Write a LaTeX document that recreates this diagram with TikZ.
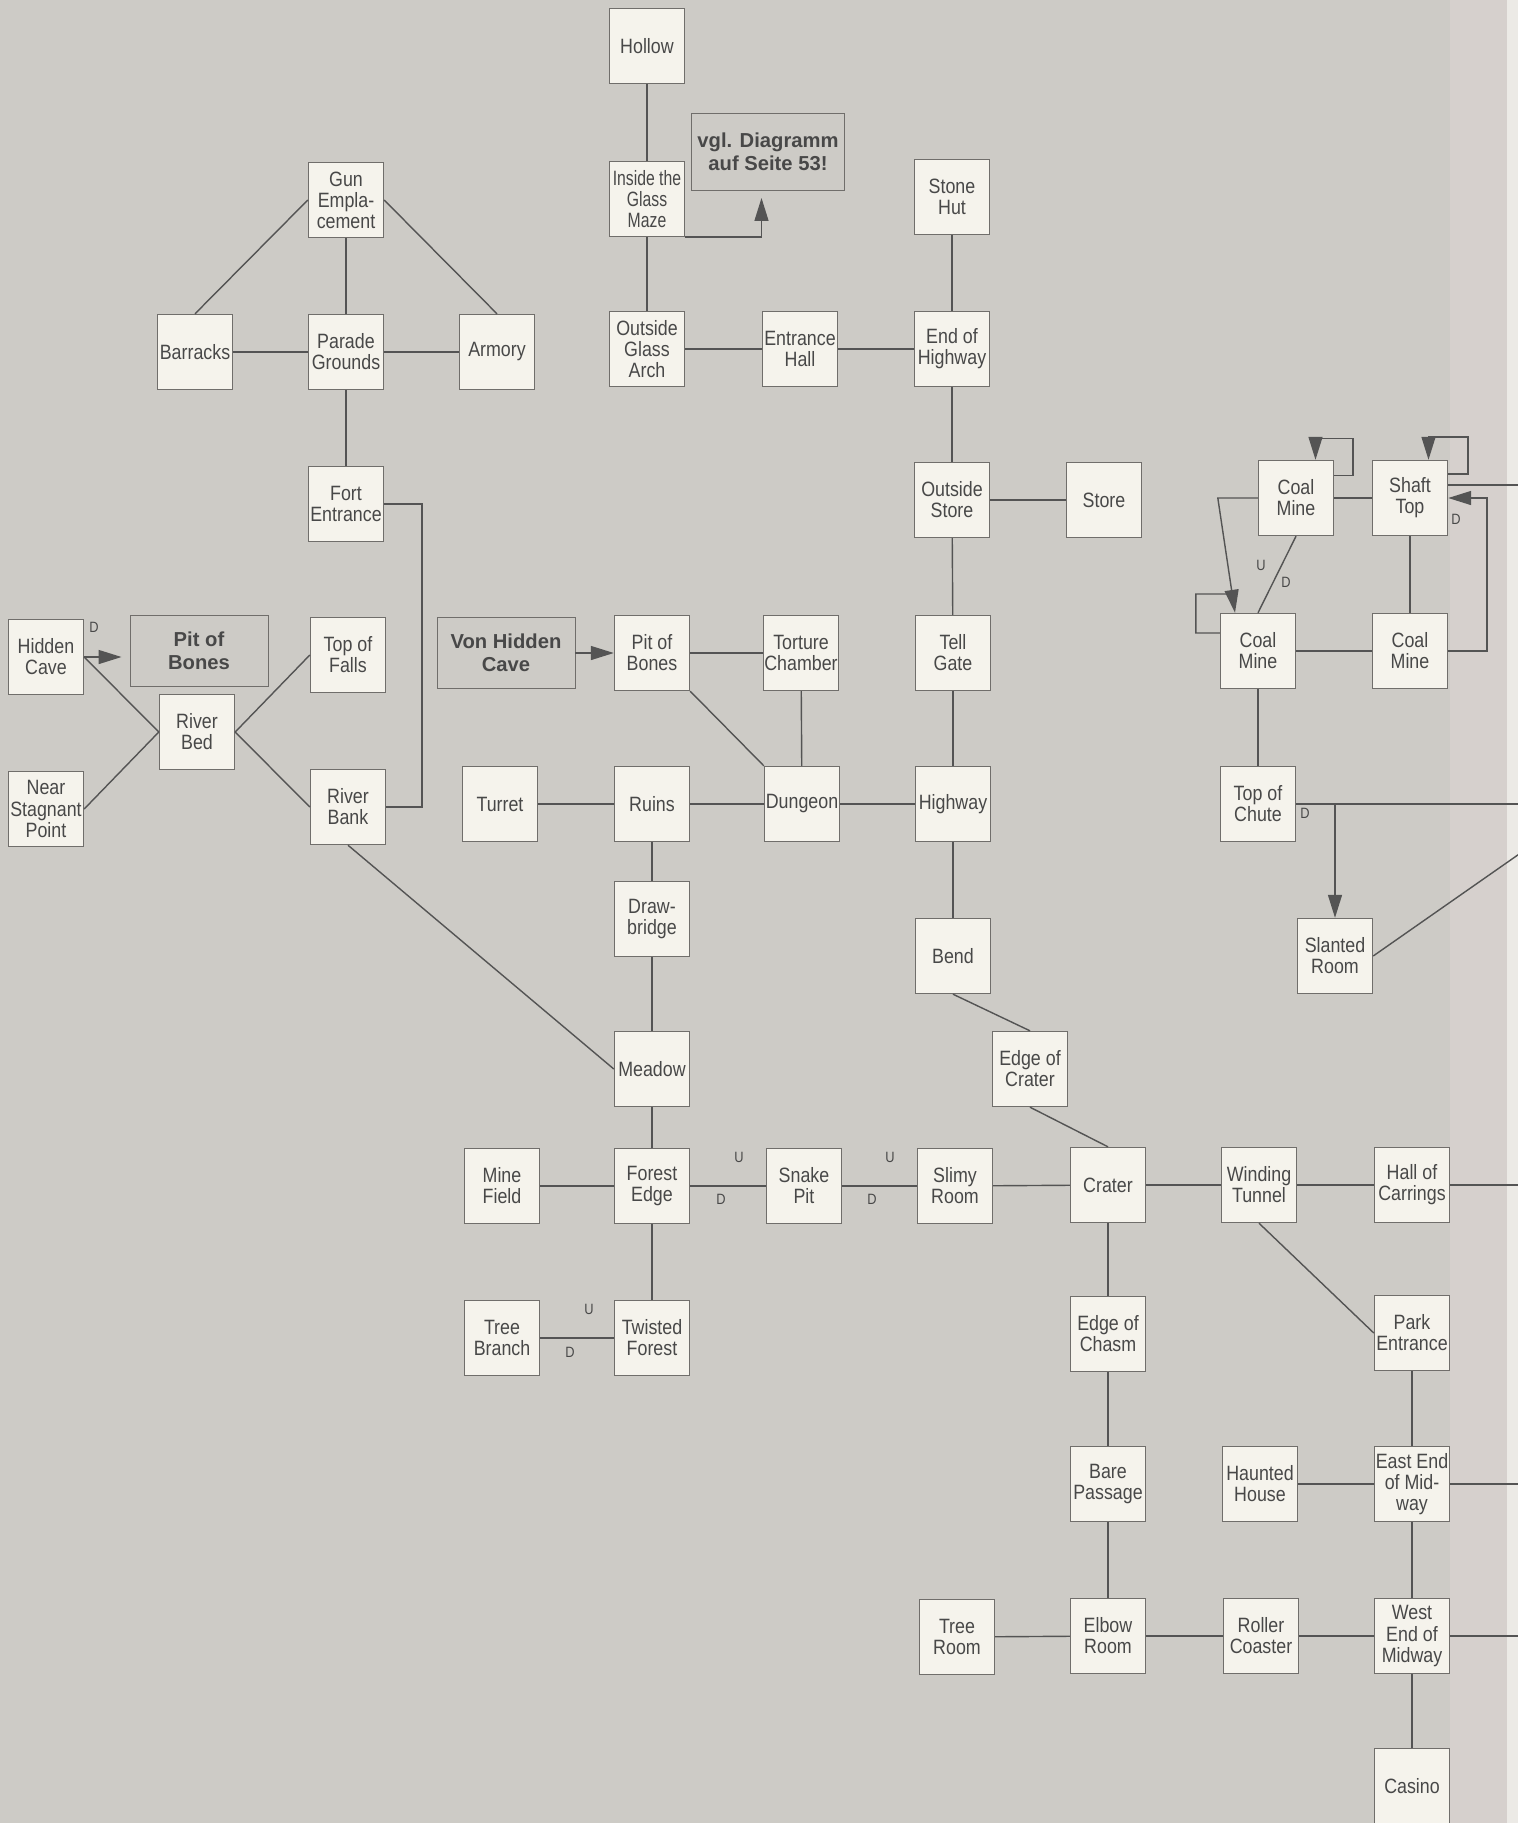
\documentclass[tikz,border=0pt]{standalone}
\usepackage{fontspec}
\setmainfont{Liberation Sans}
\newfontfamily\roomfont[FakeStretch=0.86]{Liberation Sans}
\newfontfamily\tightfont[FakeStretch=0.76]{Liberation Sans}
\usepackage{tikz}
\usetikzlibrary{arrows.meta,calc}

\definecolor{paper}{RGB}{205,203,198}
\definecolor{gutter}{RGB}{214,208,205}
\definecolor{fold}{RGB}{236,234,230}
\definecolor{roomfill}{RGB}{245,243,236}
\definecolor{roomline}{RGB}{112,110,107}
\definecolor{ink}{RGB}{72,72,72}
\definecolor{wire}{RGB}{84,84,84}

\begin{document}
\begin{tikzpicture}[x=0.2mm, y=-0.2mm,
        room/.style={draw=roomline, fill=roomfill, line width=0.5pt, minimum size=15.1mm,
            inner sep=0.2mm, align=center, text=ink, font={\roomfont\fontsize{11.8}{12}\selectfont}},
        tightroom/.style={room, font={\tightfont\fontsize{11.8}{12}\selectfont}},
        note/.style={draw=roomline, line width=0.5pt, minimum width=27.6mm, minimum height=14.3mm,
            align=center, text=ink, font={\bfseries\fontsize{11.5}{13}\selectfont}},
        way/.style={draw=wire, line width=0.8pt},
        oneway/.style={way, -{Triangle[length=4.6mm,width=2.8mm]}},
        tag/.style={text=ink, inner sep=0pt, font={\roomfont\fontsize{8.5}{9}\selectfont}}]

        \useasboundingbox (0,0) rectangle (1518,1823);
        \fill[paper] (0,0) rectangle (1518,1823);
        \fill[gutter] (1450,0) rectangle (1507,1823);
        \fill[fold] (1507,0) rectangle (1518,1823);
        \coordinate (rim) at (1518,0);

        % fort and river
        \node (gun) [room] at (346,200) {Gun\\Empla-\\cement};
        \node (barracks) [room] at (195,352) {Barracks};
        \node (parade) [room] at (346,352) {Parade\\Grounds};
        \node (armory) [room] at (497,352) {Armory};
        \node (fort) [room] at (346,504) {Fort\\Entrance};
        \node (hcave) [room] at (46,657) {Hidden\\Cave};
        \node (nsp) [room] at (46,809) {Near\\Stagnant\\Point};
        \node (pitb) [note] at (199,651) {Pit of\\Bones};
        \node (rbed) [room] at (197,732) {River\\Bed};
        \node (tfalls) [room] at (348,655) {Top of\\Falls};
        \node (rbank) [room] at (348,807) {River\\Bank};

        % glass maze and highway
        \node (hollow) [room] at (647,46) {Hollow};
        \node (maze) [tightroom] at (647,199) {Inside the\\Glass\\Maze};
        \node (vgl) [note, minimum width=30.2mm, minimum height=15.4mm] at (768,152) {vgl. Diagramm\\auf Seite 53!};
        \node (ogarch) [room] at (647,349) {Outside\\Glass\\Arch};
        \node (ehall) [room] at (800,349) {Entrance\\Hall};
        \node (eoh) [room] at (952,349) {End of\\Highway};
        \node (shut) [room] at (952,197) {Stone\\Hut};
        \node (ostore) [room] at (952,500) {Outside\\Store};
        \node (store) [room] at (1104,500) {Store};
        \node (tgate) [room] at (953,653) {Tell\\Gate};
        \node (highway) [room] at (953,804) {Highway};
        \node (bend) [room] at (953,956) {Bend};
        \node (ecrater) [room] at (1030,1069) {Edge of\\Crater};

        % dungeon and forest
        \node (vhc) [note] at (506,653) {Von Hidden\\Cave};
        \node (pob) [room] at (652,653) {Pit of\\Bones};
        \node (tchamber) [room] at (801,653) {Torture\\Chamber};
        \node (turret) [room] at (500,804) {Turret};
        \node (ruins) [room] at (652,804) {Ruins};
        \node (dungeon) [room] at (802,804) {Dungeon};
        \node (dbridge) [room] at (652,919) {Draw-\\bridge};
        \node (meadow) [room] at (652,1069) {Meadow};
        \node (mfield) [room] at (502,1186) {Mine\\Field};
        \node (fedge) [room] at (652,1186) {Forest\\Edge};
        \node (spit) [room] at (804,1186) {Snake\\Pit};
        \node (sroom) [room] at (955,1186) {Slimy\\Room};
        \node (crater) [room] at (1108,1185) {Crater};
        \node (tbranch) [room] at (502,1338) {Tree\\Branch};
        \node (tforest) [room] at (652,1338) {Twisted\\Forest};

        % mine
        \node (cm1) [room] at (1296,498) {Coal\\Mine};
        \node (shaft) [room] at (1410,498) {Shaft\\Top};
        \node (cm2) [room] at (1258,651) {Coal\\Mine};
        \node (cm3) [room] at (1410,651) {Coal\\Mine};
        \node (chute) [room] at (1258,804) {Top of\\Chute};
        \node (slanted) [room] at (1335,956) {Slanted\\Room};

        % midway
        \node (wtunnel) [room] at (1259,1185) {Winding\\Tunnel};
        \node (hoc) [room] at (1412,1185) {Hall of\\Carrings};
        \node (park) [room] at (1412,1333) {Park\\Entrance};
        \node (eastend) [room] at (1412,1484) {East End\\of Mid-\\way};
        \node (westend) [room] at (1412,1636) {West\\End of\\Midway};
        \node (casino) [room] at (1412,1786) {Casino};
        \node (haunted) [room] at (1260,1484) {Haunted\\House};
        \node (echasm) [room] at (1108,1334) {Edge of\\Chasm};
        \node (bare) [room] at (1108,1484) {Bare\\Passage};
        \node (elbow) [room] at (1108,1636) {Elbow\\Room};
        \node (roller) [room] at (1261,1636) {Roller\\Coaster};
        \node (treeroom) [room] at (957,1637) {Tree\\Room};

        % up/down marks
        \node (dHc) [tag] at (94,627) {D};
        \node (uSnake) [tag] at (739,1157) {U};
        \node (dSnake) [tag] at (721,1199) {D};
        \node (uSlimy) [tag] at (890,1157) {U};
        \node (dSlimy) [tag] at (872,1199) {D};
        \node (uTree) [tag] at (589,1309) {U};
        \node (dTree) [tag] at (570,1352) {D};
        \node (uCoal) [tag] at (1261,565) {U};
        \node (dCoal) [tag] at (1286,582) {D};
        \node (dShaft) [tag] at (1456,519) {D};
        \node (dChute) [tag] at (1305,813) {D};
        \coordinate (loopend) at (1232,594);

        \draw[way] (gun.west) -- (barracks.north);
        \draw[way] (gun.east) -- (armory.north);
        \draw[way] (gun) -- (parade);
        \draw[way] (barracks) -- (parade);
        \draw[way] (parade) -- (armory);
        \draw[way] (parade) -- (fort);
        \draw[way] (fort.east) -- ++(38,0) |- (rbank.east);
        \draw[way] (hcave.east) -- (rbed.west);
        \draw[way] (nsp.east) -- (rbed.west);
        \draw[way] (tfalls.west) -- (rbed.east);
        \draw[way] (rbank.west) -- (rbed.east);
        \draw[oneway, shorten >=1.6mm] (hcave.east) -- (hcave.east -| pitb.west);
        \draw[way] (rbank.south) -- (meadow.west);

        \draw[way] (hollow) -- (maze);
        \draw[way] (maze) -- (ogarch);
        \draw[oneway, shorten >=1.4mm] (maze.south east) -| ([xshift=-1.3mm]vgl.south);
        \draw[way] (ogarch) -- (ehall);
        \draw[way] (ehall) -- (eoh);
        \draw[way] (shut) -- (eoh);
        \draw[way] (eoh) -- (ostore);
        \draw[way] (ostore) -- (store);
        \draw[way] (ostore) -- (tgate);
        \draw[way] (tgate) -- (highway);
        \draw[way] (highway) -- (bend);
        \draw[way] (bend.south) -- (ecrater.north);
        \draw[way] (ecrater.south) -- (crater.north);

        \draw[oneway] (vhc.east) -- (vhc.east -| pob.west);
        \draw[way] (pob) -- (tchamber);
        \draw[way] (pob.south east) -- (dungeon.north west);
        \draw[way] (tchamber) -- (dungeon);
        \draw[way] (turret) -- (ruins);
        \draw[way] (ruins) -- (dungeon);
        \draw[way] (dungeon) -- (highway);
        \draw[way] (ruins) -- (dbridge);
        \draw[way] (dbridge) -- (meadow);
        \draw[way] (meadow) -- (fedge);
        \draw[way] (fedge) -- (tforest);
        \draw[way] (tbranch) -- (tforest);
        \draw[way] (mfield) -- (fedge);
        \draw[way] (fedge) -- (spit);
        \draw[way] (spit) -- (sroom);
        \draw[way] (sroom) -- (crater);
        \draw[way] (crater) -- (wtunnel);
        \draw[way] (wtunnel) -- (hoc);
        \draw[way] (hoc.east) -- (hoc.east -| rim);

        \draw[way] (cm1) -- (shaft);
        \draw[way] (shaft) -- (cm3);
        \draw[way] (cm2) -- (cm3);
        \draw[way] (cm1.south) -- (cm2.north);
        \draw[way] (cm2) -- (chute);
        \draw[oneway] ([yshift=4.5mm]cm1.east) -- ++(19,0) -- ++(0,-37) -| ([xshift=3.9mm]cm1.north);
        \draw[oneway] ([yshift=4.8mm]shaft.east) -- ++(20,0) -- ++(0,-37) -| ([xshift=3.7mm]shaft.north);
        \draw[way] ([yshift=2.6mm]shaft.east) -- ++(71,0);
        \draw[oneway] (cm3.east) -- ++(39,0) |- (shaft.east);
        \draw[oneway] (cm1.west) -- ++(-40,0) -- ([xshift=-4.6mm]cm2.north);
        \draw[way] ([yshift=3.6mm]cm2.west) -- ++(-24,0) -- ++(0,-39) -- (loopend);
        \draw[way] (chute.east) -- (chute.east -| rim);
        \draw[oneway] (chute.east -| slanted.north) -- (slanted.north);
        \draw[way] (slanted.east) -- ++(146,-102);

        \draw[way] (wtunnel.south) -- (park.west);
        \draw[way] (park) -- (eastend);
        \draw[way] (eastend) -- (westend);
        \draw[way] (westend) -- (casino);
        \draw[way] (haunted) -- (eastend);
        \draw[way] (eastend.east) -- (eastend.east -| rim);
        \draw[way] (westend.east) -- (westend.east -| rim);
        \draw[way] (roller) -- (westend);
        \draw[way] (elbow) -- (roller);
        \draw[way] (treeroom) -- (elbow);
        \draw[way] (crater) -- (echasm);
        \draw[way] (echasm) -- (bare);
        \draw[way] (bare) -- (elbow);
    \end{tikzpicture}
\end{document}
